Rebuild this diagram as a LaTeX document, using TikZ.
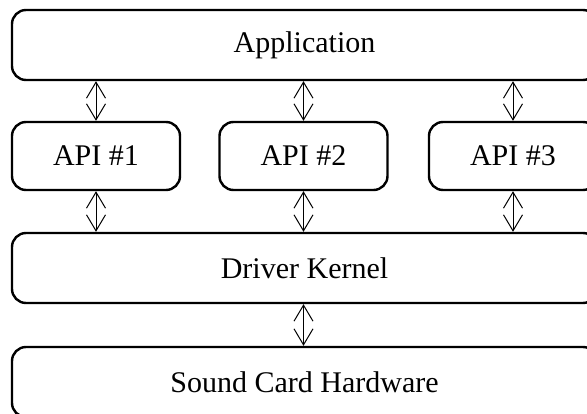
\documentclass[tikz,border=0pt]{standalone}
\usepackage{fontspec}
\setmainfont{Liberation Serif}
\usetikzlibrary{arrows.meta}
\begin{document}
\begin{tikzpicture}[x=1pt,y=-1pt,
  box/.style={draw, line width=2.4pt, rounded corners=14pt, inner sep=0pt,
    minimum height=70pt, font=\fontsize{30}{36}\selectfont},
  widebox/.style={box, minimum width=585pt},
  apibox/.style={box, minimum width=168pt, minimum height=68pt},
  link/.style={line width=1pt,
    {Straight Barb[length=16pt,width=19pt]}-{Straight Barb[length=16pt,width=19pt]}}]
% the drawing runs past the right and lower page edges
\clip (0,0) rectangle (587,414);

\node[widebox] (app) at (304.5,45) {Application};
\node[apibox] (api1) at (96,156) {API \#1};
\node[apibox] (api2) at (303.5,156) {API \#2};
\node[apibox] (api3) at (513,156) {API \#3};
\node[widebox] (drv) at (304.5,268) {Driver Kernel};
\node[widebox] (snd) at (304.5,382) {Sound Card Hardware};

\foreach \a in {api1,api2,api3} {
  \draw[link] (app.south -| \a.north) -- (\a.north);
  \draw[link] (\a.south) -- (drv.north -| \a.south);
}
\draw[link] (drv.south -| api2.south) -- (snd.north -| api2.south);
\end{tikzpicture}
\end{document}
